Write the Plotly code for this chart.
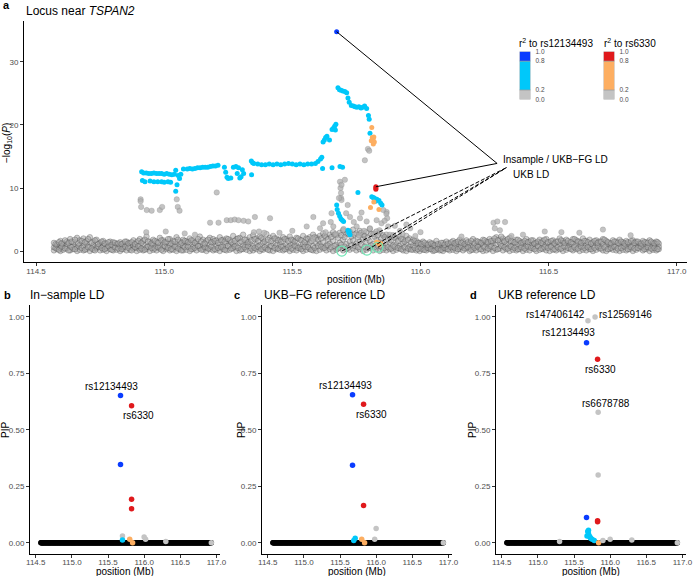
import plotly.graph_objects as go

# ---------------- DATA ----------------
# Panel a: background SNPs (r2 < 0.2), dense band
band_x = [
    114.570, 114.582, 114.595, 114.606, 114.620, 114.633, 114.645, 114.660, 114.671, 114.685,
    114.697, 114.710, 114.724, 114.736, 114.750, 114.762, 114.775, 114.789, 114.801, 114.815,
    114.828, 114.840, 114.853, 114.867, 114.880, 114.893, 114.905, 114.918, 114.931, 114.944,
    114.957, 114.970, 114.983, 114.996, 115.009, 115.022, 115.035, 115.048, 115.061, 115.074,
    115.087, 115.100, 115.113, 115.126, 115.139, 115.152, 115.165, 115.178, 115.191, 115.204,
    115.217, 115.230, 115.243, 115.256, 115.269, 115.282, 115.295, 115.308, 115.321, 115.334,
    115.347, 115.360, 115.373, 115.386, 115.399, 115.412, 115.425, 115.438, 115.451, 115.464,
    115.477, 115.490, 115.503, 115.516, 115.529, 115.542, 115.555, 115.568, 115.581, 115.594,
    115.607, 115.620, 115.633, 115.646, 115.659, 115.672, 115.685, 115.698, 115.711, 115.724,
    115.737, 115.750, 115.763, 115.776, 115.789, 115.802, 115.815, 115.828, 115.841, 115.854,
    115.867, 115.880, 115.893, 115.906, 115.919, 115.932, 115.945, 115.958, 115.971, 115.984,
    115.997, 116.010, 116.023, 116.036, 116.049, 116.062, 116.075, 116.088, 116.101, 116.114,
    116.127, 116.140, 116.153, 116.166, 116.179, 116.192, 116.205, 116.218, 116.231, 116.244,
    116.257, 116.270, 116.283, 116.296, 116.309, 116.322, 116.335, 116.348, 116.361, 116.374,
    116.387, 116.400, 116.413, 116.426, 116.439, 116.452, 116.465, 116.478, 116.491, 116.504,
    116.517, 116.530, 116.543, 116.556, 116.569, 116.582, 116.595, 116.608, 116.621, 116.634,
    116.647, 116.660, 116.673, 116.686, 116.699, 116.712, 116.725, 116.738, 116.751, 116.764,
    116.777, 116.790, 116.803, 116.816, 116.829, 116.842, 116.855, 116.868, 116.881, 116.894,
    116.907, 116.920, 116.930]
band_lo = [
    0.1,0.3,0.0,0.2,0.4,0.1,0.3,0.0,0.2,0.1, 0.3,0.0,0.2,0.4,0.1,0.2,0.0,0.3,0.1,0.2,
    0.0,0.3,0.1,0.2,0.4,0.0,0.2,0.1,0.3,0.0, 0.2,0.1,0.4,0.0,0.3,0.1,0.2,0.0,0.3,0.1,
    0.2,0.0,0.3,0.1,0.4,0.2,0.0,0.3,0.1,0.2, 0.0,0.3,0.1,0.2,0.4,0.0,0.1,0.3,0.2,0.0,
    0.1,0.3,0.0,0.2,0.4,0.1,0.0,0.3,0.2,0.1, 0.3,0.0,0.2,0.1,0.4,0.0,0.2,0.3,0.1,0.0,
    0.2,0.4,0.1,0.3,0.0,0.2,0.5,0.1,0.3,0.2, 0.4,0.1,0.3,0.0,0.2,0.5,0.1,0.3,0.0,0.2,
    0.1,0.3,0.0,0.2,0.4,0.1,0.0,0.3,0.2,0.1, 0.0,0.2,0.1,0.3,0.0,0.2,0.1,0.0,0.3,0.1,
    0.2,0.0,0.3,0.1,0.4,0.0,0.2,0.1,0.3,0.0, 0.1,0.3,0.0,0.2,0.4,0.1,0.3,0.0,0.2,0.1,
    0.3,0.0,0.2,0.1,0.4,0.0,0.2,0.3,0.1,0.0, 0.2,0.1,0.3,0.0,0.2,0.4,0.1,0.3,0.0,0.2,
    0.1,0.3,0.0,0.2,0.4,0.1,0.0,0.3,0.2,0.1, 0.0,0.2,0.1,0.3,0.0,0.2,0.4,0.1,0.3,0.0,
    0.2,0.1,0.3]
band_mid = [
    0.6,0.9,0.5,0.8,1.1,0.7,0.9,0.6,1.0,0.8, 1.2,0.7,0.9,0.6,1.0,0.8,0.5,0.9,0.7,1.1,
    0.8,0.6,1.0,0.7,0.9,0.5,0.8,1.1,0.6,0.9, 1.0,0.7,0.8,1.2,0.6,0.9,1.1,0.7,1.0,0.8,
    0.9,1.2,0.7,1.0,0.8,1.1,0.6,0.9,1.3,0.8, 1.0,0.7,1.2,0.9,1.1,0.8,1.3,0.9,1.0,1.2,
    0.8,1.1,0.9,1.3,1.0,0.7,1.2,0.9,1.1,0.8, 1.0,0.8,1.2,0.9,0.7,1.1,1.0,1.3,0.8,1.2,
    1.1,1.4,0.9,1.2,1.6,1.0,1.3,1.8,1.1,1.5, 1.7,1.2,1.5,1.9,1.3,1.6,1.1,1.8,1.4,1.2,
    1.0,1.3,0.9,1.1,0.8,1.2,1.0,0.7,0.9,1.1, 0.6,0.8,0.5,0.7,0.9,0.6,0.8,0.5,0.7,0.9,
    0.7,1.0,0.6,0.9,0.8,1.1,0.7,0.9,1.0,0.8, 1.1,0.8,1.2,1.0,1.3,0.9,1.1,0.8,1.0,0.7,
    0.9,1.1,0.8,1.0,0.7,1.2,0.9,1.1,0.8,1.0, 1.2,0.9,1.1,1.3,0.8,1.0,1.2,0.9,1.1,0.8,
    1.0,0.7,0.9,1.2,0.8,1.1,0.9,1.0,0.7,0.9, 1.1,0.8,1.0,0.7,0.9,1.2,0.8,1.0,0.6,0.9,
    0.8,1.1,0.7]
band_hi = [
    1.3,1.0,1.6,1.2,1.5,1.9,1.4,2.1,1.7,2.0, 1.6,2.2,1.5,1.8,1.3,1.6,1.2,1.5,1.4,1.1,
    1.4,1.2,1.5,1.3,1.7,1.4,1.9,1.6,2.3,1.5, 1.8,1.5,2.1,1.7,1.4,1.9,1.6,2.2,1.5,1.8,
    1.6,2.0,1.7,1.5,2.3,1.8,1.6,2.1,1.9,1.7, 2.2,1.8,2.0,1.7,2.4,1.9,2.1,2.6,1.8,2.2,
    2.5,2.0,2.3,1.9,2.7,2.1,2.4,2.0,1.8,2.2, 1.9,2.3,1.7,2.1,1.8,2.4,2.0,2.2,2.6,2.1,
    2.4,2.8,2.2,2.6,3.0,2.5,2.9,3.3,2.7,3.1, 3.4,2.8,3.2,2.6,3.0,3.5,2.7,3.1,2.9,2.5,
    2.6,2.2,2.5,2.1,2.3,1.9,2.4,2.0,1.8,1.6, 1.3,1.5,1.1,1.4,1.2,1.6,1.0,1.3,1.5,1.2,
    1.6,1.4,1.8,1.5,1.7,1.3,1.9,1.6,1.4,1.8, 1.5,1.9,1.6,2.2,1.8,2.0,1.7,2.1,1.5,1.8,
    1.6,1.4,1.9,1.5,1.7,1.3,1.8,1.6,1.9,1.4, 1.7,1.5,2.0,1.6,1.8,1.4,1.9,1.7,1.5,2.0,
    1.6,1.8,1.4,1.7,1.5,1.9,1.6,1.3,1.7,1.5, 1.8,1.4,1.6,1.3,1.7,1.5,1.2,1.6,1.4,1.7,
    1.3,1.5,1.2]
band_x2 = [
    114.576,114.589,114.600,114.613,114.627,114.639,114.652,114.666,114.678,114.691,
    114.703,114.717,114.730,114.743,114.756,114.768,114.782,114.795,114.808,114.821,
    114.834,114.847,114.860,114.873,114.886,114.899,114.911,114.924,114.937,114.950,
    114.963,114.976,114.989,115.002,115.015,115.028,115.041,115.054,115.067,115.080,
    115.093,115.106,115.119,115.132,115.145,115.158,115.171,115.184,115.197,115.210,
    115.223,115.236,115.249,115.262,115.275,115.288,115.301,115.314,115.327,115.340,
    115.353,115.366,115.379,115.392,115.405,115.418,115.431,115.444,115.457,115.470,
    115.483,115.496,115.509,115.522,115.535,115.548,115.561,115.574,115.587,115.600,
    115.613,115.626,115.639,115.652,115.665,115.678,115.691,115.704,115.717,115.730,
    115.743,115.756,115.769,115.782,115.795,115.808,115.821,115.834,115.847,115.860,
    115.873,115.886,115.899,115.912,115.925,115.938,115.951,115.964,115.977,115.990,
    116.003,116.016,116.029,116.042,116.055,116.068,116.081,116.094,116.107,116.120,
    116.133,116.146,116.159,116.172,116.185,116.198,116.211,116.224,116.237,116.250,
    116.263,116.276,116.289,116.302,116.315,116.328,116.341,116.354,116.367,116.380,
    116.393,116.406,116.419,116.432,116.445,116.458,116.471,116.484,116.497,116.510,
    116.523,116.536,116.549,116.562,116.575,116.588,116.601,116.614,116.627,116.640,
    116.653,116.666,116.679,116.692,116.705,116.718,116.731,116.744,116.757,116.770,
    116.783,116.796,116.809,116.822,116.835,116.848,116.861,116.874,116.887,116.900,
    116.913,116.925]
band_y4 = [
    0.5,0.2,0.7,0.4,0.1,0.6,0.3,0.8,0.5,0.2, 0.6,0.4,0.1,0.7,0.5,0.3,0.8,0.2,0.6,0.4,
    0.3,0.7,0.5,0.1,0.6,0.8,0.4,0.2,0.7,0.5, 0.4,0.6,0.2,0.8,0.5,0.3,0.7,0.4,0.1,0.6,
    0.7,0.3,0.5,0.8,0.2,0.6,0.4,0.7,0.3,0.5, 0.6,0.2,0.8,0.4,0.7,0.5,0.3,0.6,0.8,0.4,
    0.5,0.7,0.3,0.6,0.2,0.8,0.5,0.4,0.7,0.3, 0.6,0.4,0.8,0.5,0.3,0.7,0.6,0.2,0.5,0.8,
    0.7,0.5,0.9,0.6,0.8,0.4,1.0,0.7,0.5,0.9, 0.8,0.6,1.0,0.7,0.5,0.9,0.6,0.8,0.7,0.5,
    0.6,0.4,0.7,0.5,0.3,0.6,0.4,0.2,0.5,0.3, 0.4,0.2,0.5,0.3,0.1,0.4,0.2,0.5,0.3,0.6,
    0.5,0.3,0.7,0.4,0.6,0.2,0.5,0.7,0.3,0.6, 0.4,0.7,0.5,0.3,0.8,0.6,0.4,0.7,0.5,0.3,
    0.6,0.4,0.7,0.5,0.3,0.8,0.4,0.6,0.5,0.7, 0.3,0.6,0.4,0.7,0.5,0.3,0.6,0.4,0.7,0.5,
    0.6,0.3,0.5,0.7,0.4,0.6,0.3,0.5,0.7,0.4, 0.5,0.7,0.3,0.6,0.4,0.5,0.7,0.3,0.6,0.4,
    0.5,0.3]
band_y5 = [
    1.1,1.4,1.2,1.7,1.3,1.5,1.8,1.2,1.6,1.4, 1.9,1.3,1.7,1.1,1.5,1.2,1.4,1.0,1.3,1.2,
    1.1,1.5,1.2,1.4,1.1,1.6,1.3,1.8,1.5,1.2, 1.6,1.3,1.7,1.4,1.9,1.2,1.5,1.8,1.3,1.6,
    1.4,1.7,1.3,1.9,1.5,1.2,1.8,1.4,1.6,1.3, 1.7,1.5,1.9,1.4,1.6,2.0,1.5,1.8,1.4,1.7,
    1.9,1.6,2.1,1.5,1.8,1.6,2.0,1.7,1.5,1.9, 1.6,1.8,1.5,2.0,1.7,1.4,1.9,1.6,2.2,1.8,
    2.0,2.4,1.9,2.2,2.6,2.1,2.5,2.2,2.8,2.3, 2.6,2.2,2.9,2.4,2.1,2.7,2.3,2.5,2.0,2.2,
    1.9,1.7,2.1,1.6,1.9,1.5,1.8,1.4,1.6,1.3, 1.1,1.3,1.0,1.2,0.9,1.1,1.3,1.0,1.2,1.4,
    1.2,1.5,1.3,1.1,1.4,1.6,1.2,1.5,1.3,1.7, 1.4,1.6,2.0,1.7,2.3,1.5,1.9,1.6,1.4,1.8,
    1.3,1.6,1.4,1.7,1.2,1.5,1.3,1.8,1.4,1.6, 1.2,1.5,1.7,1.3,1.6,1.4,1.9,1.5,1.3,1.6,
    1.4,1.2,1.6,1.3,1.5,1.8,1.4,1.2,1.5,1.3, 1.5,1.2,1.4,1.6,1.3,1.5,1.2,1.4,1.3,1.5,
    1.2,1.4]

# Panel a: other low-LD SNPs above the band
grey_x = [114.908,114.908,114.910,114.932,114.951,114.983,114.992,115.049,115.053,115.060,
          115.205,115.006,115.080,115.179,115.212,115.244,115.260,115.275,115.290,115.310,
          115.328,115.354,115.413,115.582,115.556,115.350,115.370,115.390,115.580,114.930,
          115.120,115.450,115.500,
          115.686,115.688,115.690,115.690,115.692,115.705,115.692,115.716,115.653,115.650,115.682,
          115.795,115.800,115.783,
          115.725,115.764,115.790,115.829,115.848,115.874,115.751,115.803,115.660,115.608,
          115.868,115.855,115.867,115.870,115.945,115.960,116.000,115.920,115.900,115.740,
          115.780,115.820,115.700,115.760,115.840,115.880,115.630,115.670,115.710,115.770,
          115.860,115.620,115.980,115.930,
          116.285,116.300,116.290,116.310,116.330,116.485,116.550,116.712,116.355,116.620,
          116.400,116.160,116.820]
grey_y = [8.2,7.9,7.0,6.5,6.4,6.5,7.0,8.2,7.0,6.4,
          9.3,3.1,2.8,4.5,4.5,4.9,4.9,5.0,4.9,4.8,
          4.7,5.4,5.2,5.4,3.9,3.0,3.1,2.9,2.0,3.0,
          2.6,2.9,3.2,
          11.0,10.0,9.2,8.4,8.1,11.3,10.5,7.3,6.0,4.6,8.4,
          16.2,15.9,14.4,
          5.4,5.2,4.7,4.9,4.4,3.9,3.9,3.6,3.9,3.6,
          6.2,6.5,5.9,5.2,4.2,3.6,3.0,3.2,4.0,4.6,
          3.2,2.8,3.5,2.5,3.3,2.6,3.0,2.7,6.0,6.1,
          4.8,4.4,2.4,2.7,
          4.5,4.7,3.6,3.3,4.6,3.1,3.0,3.4,2.4,2.9,
          2.6,2.3,2.5]

# Panel a: r2 0.2-0.8 with rs12134493 (cyan)
cyan_x = [114.912,114.920,114.930,114.940,114.950,114.960,114.970,114.980,114.990,115.000,
          115.010,115.020,115.030,115.040,
          114.915,114.925,114.945,114.960,114.975,114.990,115.000,115.015,115.025,
          115.045,115.055,115.060,115.050,115.045,115.065,
          115.075,115.090,115.100,115.110,115.120,115.130,115.140,115.150,115.160,115.170,
          115.180,115.190,115.200,115.210,
          115.235,115.240,115.245,115.250,115.260,115.270,115.280,115.290,115.285,115.295,
          115.300,115.305,115.310,115.341,115.340,115.345,
          115.350,115.365,115.380,115.395,115.410,115.425,115.440,115.455,115.470,115.485,
          115.500,115.515,115.530,115.545,115.560,115.575,115.590,115.600,115.610,115.615,
          115.620,115.625,115.630,115.635,115.645,115.655,115.660,115.665,115.670,115.668,
          115.618,115.655,115.696,115.686,
          115.678,115.684,115.690,115.697,115.705,115.712,115.717,115.722,115.730,115.738,
          115.745,115.752,115.760,115.768,115.775,115.782,115.790,115.797,115.800,115.803,
          115.810,115.815,115.820,115.830,115.838,115.845,115.850,115.825,
          115.673,115.675,115.680,115.685,115.690,115.695,115.700,
          115.717,115.720,115.725,115.722,115.756]
cyan_y = [12.6,12.4,12.4,12.3,12.3,12.4,12.3,12.3,12.3,12.2,
          12.3,12.2,12.1,12.2,
          11.2,11.0,11.1,11.0,11.0,11.0,10.9,11.0,10.9,
          12.8,12.0,11.5,10.5,9.5,12.2,
          13.0,13.0,13.1,13.0,13.1,13.2,13.2,13.3,13.3,13.3,
          13.4,13.5,13.5,13.6,
          13.3,12.5,11.7,11.5,11.6,13.3,13.4,13.2,12.3,11.6,
          11.8,12.9,12.3,12.1,14.3,14.0,
          13.9,13.8,13.7,13.7,13.8,13.7,13.8,13.7,13.8,13.9,
          13.8,13.7,13.8,13.7,13.8,13.8,13.9,14.2,14.6,14.9,
          17.3,17.6,18.0,18.2,17.6,19.3,19.5,19.8,20.1,19.2,
          13.1,13.2,13.3,13.4,
          25.9,25.6,25.5,25.4,25.3,25.1,24.3,23.6,23.1,23.0,
          22.9,22.8,22.9,22.7,22.8,23.0,22.6,21.5,20.9,18.7,
          8.6,8.5,8.4,8.2,8.0,7.6,7.3,7.9,
          7.3,6.6,6.0,5.5,5.1,4.9,4.7,
          3.3,2.9,2.6,3.1,9.3]

# Panel a: r2 0.2-0.8 with rs6330 (orange)
orange_x = [115.810,115.812,115.815,115.818,115.808,115.816,115.820,
            115.818,115.805,115.838,115.829,115.835,115.840,115.845]
orange_y = [19.6,18.0,17.7,18.1,17.5,17.0,17.3,
            7.8,6.9,6.6,1.4,1.3,1.0,1.2]

# Panel a: lead variants
lead_snps = ["rs12134493", "rs6330"]
lead_pos = [115.673, 115.826]
lead_logp = [34.8, 10.2]
red_extra_x = [115.826, 115.826]
red_extra_y = [10.0, 9.8]

# UKB-only credible variants (green circles)
ukb_snps = ["rs147406142", "rs12569146", "rs6678788"]
ukb_pos = [115.693, 115.791, 115.834]
ukb_logp = [0.0, 0.15, 0.6]

# connector label anchor points in panel a
insample_anchor = (116.299, 13.9)
ukb_anchor = (116.336, 13.25)

# Panels b-d: PIP values
b_blue = [0.652, 0.347]
b_red = [0.607, 0.192, 0.150]
b_small_x = [115.700, 115.700, 115.800, 115.840, 116.000, 116.020, 116.300, 116.930]
b_small_y = [0.030, 0.012, 0.015, 0.000, 0.025, 0.015, 0.005, 0.000]
b_small_c = ["grey", "cyan", "orange", "orange", "grey", "grey", "grey", "grey"]

c_blue = [0.655, 0.343]
c_red = [0.613, 0.165]
c_small_x = [116.000, 115.710, 115.690, 115.800, 115.840, 115.980, 116.930]
c_small_y = [0.063, 0.020, 0.010, 0.015, 0.000, 0.015, 0.000]
c_small_c = ["grey", "cyan", "cyan", "orange", "orange", "grey", "grey"]

d_blue = [0.886, 0.112]
d_red = [0.813, 0.097, 0.093]
d_grey_x = [115.693, 115.791, 115.834, 115.834, 115.900, 116.000, 116.300, 115.300, 116.930]
d_grey_y = [0.983, 1.000, 0.578, 0.300, 0.010, 0.015, 0.012, 0.005, 0.000]
d_cyan_x = [115.690, 115.700, 115.710, 115.720, 115.730, 115.750, 115.780, 115.700, 115.680]
d_cyan_y = [0.050, 0.040, 0.030, 0.025, 0.020, 0.015, 0.010, 0.055, 0.030]
d_orange_x = [115.840]
d_orange_y = [0.000]

# label positions for PIP panels
b_labels = [("rs12134493", 115.55, 0.692), ("rs6330", 115.92, 0.562)]
c_labels = [("rs12134493", 115.57, 0.696), ("rs6330", 115.94, 0.566)]
d_labels = [("rs147406142", 115.24, 1.012), ("rs12569146", 116.21, 1.012),
            ("rs12134493", 115.42, 0.932), ("rs6330", 115.86, 0.768),
            ("rs6678788", 115.94, 0.618)]

# ---------------- STYLE ----------------
W, H = 693, 576
FONT = "Liberation Sans"
BLUE = "#0A3CFF"
CYAN = "#00C8FA"
RED = "#E0191C"
ORANGE = "#FDAE61"
GREY = "#C4C4C4"
MINT = "#6EE6B4"
COLMAP = {"grey": GREY, "cyan": CYAN, "orange": ORANGE}


def pxx(v):
    return v / W


def pxy(v):
    return 1 - v / H


fig = go.Figure()

# ---- panel a ----
bx, by = [], []
for x, a, b, c in zip(band_x, band_lo, band_mid, band_hi):
    bx += [x, x, x]
    by += [a, b, c]
for x, a, b in zip(band_x2, band_y4, band_y5):
    bx += [x, x]
    by += [a, b]
snp_pos = sorted(set(band_x) | set(band_x2))

grey_marker = dict(size=5.5, color="rgba(168,168,168,0.55)",
                   line=dict(color="rgba(45,45,45,0.45)", width=0.6))
fig.add_trace(go.Scatter(x=bx, y=by, mode="markers",
                         marker=grey_marker, xaxis="x", yaxis="y", hoverinfo="skip"))
fig.add_trace(go.Scatter(x=grey_x, y=grey_y, mode="markers",
                         marker=dict(size=5.5, color="rgba(175,175,175,0.75)",
                                     line=dict(color="rgba(110,110,110,0.4)", width=0.5)),
                         xaxis="x", yaxis="y", hoverinfo="skip"))
fig.add_trace(go.Scatter(x=cyan_x, y=cyan_y, mode="markers",
                         marker=dict(size=5, color=CYAN), xaxis="x", yaxis="y"))
fig.add_trace(go.Scatter(x=orange_x, y=orange_y, mode="markers",
                         marker=dict(size=5, color=ORANGE), xaxis="x", yaxis="y"))
fig.add_trace(go.Scatter(x=[lead_pos[0]], y=[lead_logp[0]], mode="markers",
                         marker=dict(size=5, color=BLUE), xaxis="x", yaxis="y"))
fig.add_trace(go.Scatter(x=[lead_pos[1]] + red_extra_x, y=[lead_logp[1]] + red_extra_y,
                         mode="markers", marker=dict(size=5, color=RED), xaxis="x", yaxis="y"))
fig.add_trace(go.Scatter(x=ukb_pos, y=ukb_logp, mode="markers",
                         marker=dict(size=10, color="rgba(0,0,0,0)",
                                     line=dict(color=MINT, width=1.2)),
                         xaxis="x", yaxis="y"))
# connectors
for px_, py_ in zip(lead_pos, lead_logp):
    fig.add_trace(go.Scatter(x=[px_, insample_anchor[0]], y=[py_, insample_anchor[1]],
                             mode="lines", line=dict(color="black", width=1),
                             xaxis="x", yaxis="y", hoverinfo="skip"))
for px_, py_ in zip(ukb_pos, ukb_logp):
    fig.add_trace(go.Scatter(x=[px_, ukb_anchor[0]], y=[py_, ukb_anchor[1]],
                             mode="lines", line=dict(color="black", width=1, dash="4px,2px"),
                             xaxis="x", yaxis="y", hoverinfo="skip"))


# ---- panels b-d ----
def add_pip_panel(xa, ya, blue, red, extra):
    fig.add_trace(go.Scatter(x=snp_pos, y=[0] * len(snp_pos), mode="markers",
                             marker=dict(size=5.5, color="black"),
                             xaxis=xa, yaxis=ya, hoverinfo="skip"))
    for (xs, ys, cs) in extra:
        fig.add_trace(go.Scatter(x=xs, y=ys, mode="markers",
                                 marker=dict(size=5.5, color=cs),
                                 xaxis=xa, yaxis=ya))
    fig.add_trace(go.Scatter(x=[lead_pos[0]] * len(blue), y=blue, mode="markers",
                             marker=dict(size=5.5, color=BLUE), xaxis=xa, yaxis=ya))
    fig.add_trace(go.Scatter(x=[lead_pos[1]] * len(red), y=red, mode="markers",
                             marker=dict(size=5.5, color=RED), xaxis=xa, yaxis=ya))


add_pip_panel("x2", "y2", b_blue, b_red,
              [(b_small_x, b_small_y, [COLMAP[c] for c in b_small_c])])
add_pip_panel("x3", "y3", c_blue, c_red,
              [(c_small_x, c_small_y, [COLMAP[c] for c in c_small_c])])
add_pip_panel("x4", "y4", d_blue, d_red,
              [(d_cyan_x, d_cyan_y, CYAN), (d_orange_x, d_orange_y, ORANGE),
               (d_grey_x, d_grey_y, GREY)])

# ---- legend colour bars ----
leg_breaks = [0.0, 0.2, 0.8]
leg_heights = [0.2, 0.6, 0.2]
for xa, ya, cols in [("x5", "y5", [GREY, CYAN, BLUE]), ("x6", "y6", [GREY, ORANGE, RED])]:
    fig.add_trace(go.Bar(x=[0, 0, 0], y=leg_heights, base=leg_breaks, width=1,
                         marker=dict(color=cols, line=dict(color="#9a9a9a", width=0.6)),
                         xaxis=xa, yaxis=ya, hoverinfo="skip"))

# ---------------- LAYOUT ----------------
tickfont = dict(family=FONT, size=8, color="#4d4d4d")
base_axis = dict(showline=True, linecolor="black", linewidth=1, ticks="outside",
                 ticklen=3, tickcolor="#333333", tickwidth=1, showgrid=False,
                 zeroline=False, tickfont=tickfont, automargin=False)

xticks = [114.5, 115.0, 115.5, 116.0, 116.5, 117.0]
layout = dict(
    width=W, height=H, margin=dict(l=0, r=0, t=0, b=0),
    paper_bgcolor="white", plot_bgcolor="white", showlegend=False,
    barmode="overlay", font=dict(family=FONT),
    xaxis=dict(base_axis, domain=[pxx(24), pxx(687)], range=[114.453, 117.04],
               tickvals=xticks, tickformat=".1f", anchor="y", ticklabelstandoff=-2),
    yaxis=dict(base_axis, domain=[pxy(262), pxy(21)], range=[-1.74, 36.5],
               tickvals=[0, 10, 20, 30], anchor="x"),
)
small_doms = {"2": [30, 220], "3": [262, 452], "4": [496, 686]}
for k, (l, r) in small_doms.items():
    layout["xaxis" + k] = dict(base_axis, domain=[pxx(l), pxx(r)], range=[114.42, 117.05],
                               tickvals=xticks, tickformat=".1f", anchor="y" + k,
                               ticklabelstandoff=-3)
    layout["yaxis" + k] = dict(base_axis, domain=[pxy(554), pxy(305)], range=[-0.05, 1.053],
                               tickvals=[0, 0.25, 0.5, 0.75, 1.0], tickformat=".2f",
                               anchor="x" + k)
legfont = dict(family=FONT, size=6.5, color="#4d4d4d")
for k, (l, r) in {"5": [519.5, 530.5], "6": [603.5, 614.5]}.items():
    layout["xaxis" + k] = dict(domain=[pxx(l), pxx(r)], range=[-0.5, 0.5], visible=False,
                               anchor="y" + k, automargin=False)
    layout["yaxis" + k] = dict(domain=[pxy(99.5), pxy(51.5)], range=[0, 1], side="right",
                               tickvals=[0, 0.2, 0.8, 1.0],
                               ticktext=["0.0", "0.2", "0.8", "1.0"],
                               tickfont=legfont, showgrid=False, zeroline=False,
                               showline=False, ticks="", anchor="x" + k, automargin=False,
                               ticklabelstandoff=4)
fig.update_layout(**layout)

ann = []


def paper_text(text, x, y, size, xanchor="left", yanchor="middle", color="black",
               angle=0, bold=False):
    t = f"<b>{text}</b>" if bold else text
    ann.append(dict(text=t, x=pxx(x), y=pxy(y), xref="paper", yref="paper",
                    xanchor=xanchor, yanchor=yanchor, showarrow=False, textangle=angle,
                    font=dict(family=FONT, size=size, color=color)))


# panel letters and titles
paper_text("a", 1, 5, 11, bold=True)
paper_text("Locus near <i>TSPAN2</i>", 24, 11, 12)
paper_text("b", 2, 295, 11, bold=True)
paper_text("In−sample LD", 28, 295, 12)
paper_text("c", 232, 295, 11, bold=True)
paper_text("UKB−FG reference LD", 262, 295, 12)
paper_text("d", 468, 295, 11, bold=True)
paper_text("UKB reference LD", 496, 295, 12)

# axis titles
paper_text("position (Mb)", 356, 279, 10, xanchor="center")
paper_text("−log<sub>10</sub>(<i>P</i>)", 7, 143, 10, xanchor="center", angle=-90)
for cx, yx in [(125, 5), (357, 241), (591, 472)]:
    paper_text("position (Mb)", cx, 571, 10, xanchor="center")
    paper_text("PIP", yx, 430, 10, xanchor="center", angle=-90)

# legend titles
paper_text("r<sup>2</sup> to rs12134493", 517, 43, 10)
paper_text("r<sup>2</sup> to rs6330", 602, 43, 10)

# panel a connector labels
ann.append(dict(text="Insample / UKB−FG LD", x=116.316, y=14.6, xref="x", yref="y",
                xanchor="left", yanchor="middle", showarrow=False,
                font=dict(family=FONT, size=10, color="black")))
ann.append(dict(text="UKB LD", x=116.355, y=12.1, xref="x", yref="y",
                xanchor="left", yanchor="middle", showarrow=False,
                font=dict(family=FONT, size=10, color="black")))

# PIP labels
for k, labs in [("2", b_labels), ("3", c_labels), ("4", d_labels)]:
    for txt, lx, ly in labs:
        ann.append(dict(text=txt, x=lx, y=ly, xref="x" + k, yref="y" + k,
                        xanchor="center", yanchor="middle", showarrow=False,
                        font=dict(family=FONT, size=10, color="black")))

fig.update_layout(annotations=ann)
fig.write_html("out.html", config={"displayModeBar": False},
               post_script="document.body.style.margin='0';")
